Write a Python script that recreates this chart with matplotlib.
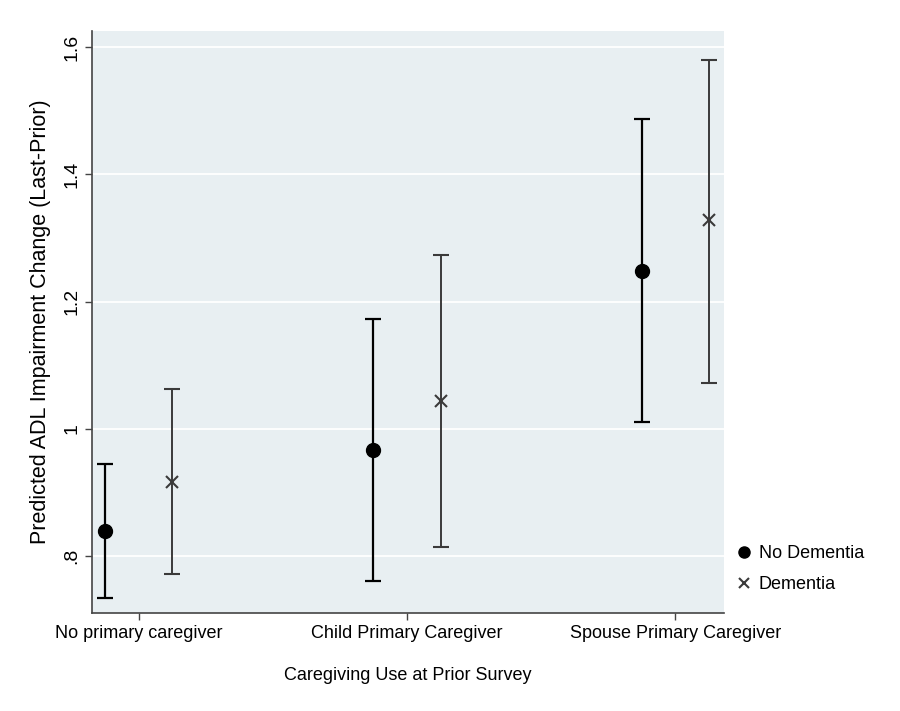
import numpy as np
import matplotlib.pyplot as plt
from matplotlib.lines import Line2D

plt.rcParams['font.family'] = ['Liberation Sans', 'DejaVu Sans']

categories = ["No primary caregiver", "Child Primary Caregiver", "Spouse Primary Caregiver"]

# predicted change with 95% CI
nodem_mean = [0.839, 0.966, 1.248]
nodem_low = [0.734, 0.761, 1.011]
nodem_high = [0.944, 1.172, 1.487]

dem_mean = [0.916, 1.044, 1.328]
dem_low = [0.772, 0.814, 1.072]
dem_high = [1.062, 1.273, 1.580]

yticks = [0.8, 1.0, 1.2, 1.4, 1.6]
ytick_labels = [".8", "1", "1.2", "1.4", "1.6"]

x = np.arange(len(categories))
off = 0.125

fig = plt.figure(figsize=(9, 7.11), dpi=100)
ax = fig.add_axes([0.102, 0.138, 0.702, 0.818])
ax.set_facecolor('#e8eff2')

for v in yticks:
    ax.axhline(v, color='white', lw=1.3, zorder=0)

nm = np.array(nodem_mean)
dm = np.array(dem_mean)
ax.errorbar(x - off, nm, yerr=[nm - np.array(nodem_low), np.array(nodem_high) - nm],
            fmt='o', color='black', ms=10, elinewidth=1.6, capsize=6, capthick=1.6, zorder=3)
ax.errorbar(x + off, dm, yerr=[dm - np.array(dem_low), np.array(dem_high) - dm],
            fmt='x', color='#3a3a3a', ms=8, mew=1.5, elinewidth=1.4, capsize=6, capthick=1.4, zorder=3)

ax.set_xlim(-0.175, 2.18)
ax.set_ylim(0.7106, 1.625)
ax.set_yticks(yticks)
ax.set_yticklabels(ytick_labels, rotation=90, va='center', fontsize=14)
ax.set_xticks(x)
ax.set_xticklabels(categories, fontsize=13)
ax.tick_params(axis='both', direction='out', length=5, color='#444444', width=1)
ax.tick_params(axis='y', pad=3)
ax.tick_params(axis='x', pad=4)

for s in ['top', 'right']:
    ax.spines[s].set_visible(False)
for s in ['left', 'bottom']:
    ax.spines[s].set_color('#444444')
    ax.spines[s].set_linewidth(1.2)

ax.set_xlabel("Caregiving Use at Prior Survey", fontsize=13, labelpad=18)
ax.set_ylabel("Predicted ADL Impairment Change (Last-Prior)", fontsize=15.5, labelpad=9)

handles = [Line2D([], [], marker='o', ls='none', color='black', ms=8),
           Line2D([], [], marker='x', ls='none', color='#3a3a3a', ms=7, mew=1.5)]
ax.legend(handles, ['No Dementia', 'Dementia'], loc='center left', bbox_to_anchor=(0.99, 0.075),
          frameon=False, fontsize=13, handletextpad=0.2, labelspacing=0.75, handlelength=1.2)

fig.savefig('out.png', dpi=100)
